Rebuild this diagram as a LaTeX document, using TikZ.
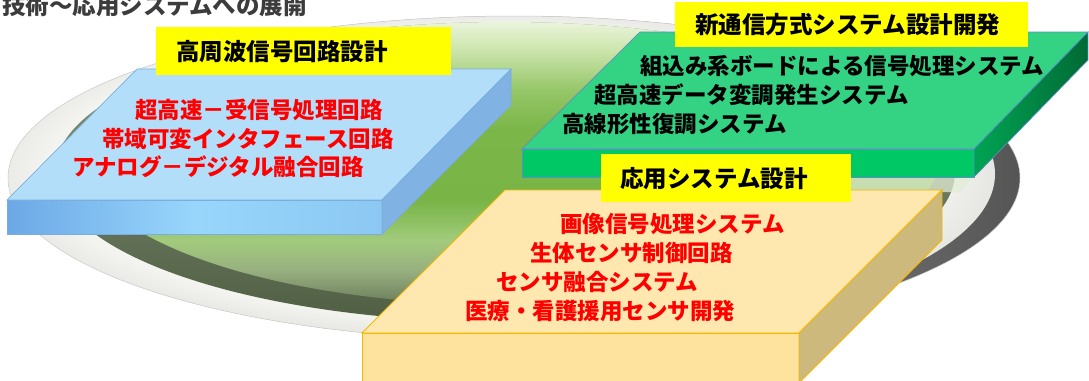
\documentclass[tikz,border=0pt]{standalone}
\usepackage{fontspec}
\setmainfont{Noto Sans CJK JP}
\definecolor{bTop}{HTML}{B2DEFA}
\definecolor{bFL}{HTML}{6CA8E6}
\definecolor{bFM}{HTML}{98D6FC}
\definecolor{bFR}{HTML}{8CC8F2}
\definecolor{bSide}{HTML}{80B2E4}
\definecolor{bEdge}{HTML}{78AEE0}
\definecolor{gTop}{HTML}{33D383}
\definecolor{gFront}{HTML}{00C864}
\definecolor{gSL}{HTML}{00A453}
\definecolor{gSR}{HTML}{006A34}
\definecolor{gEdge}{HTML}{5B8FC9}
\definecolor{oTop}{HTML}{FEE8B0}
\definecolor{oFront}{HTML}{FDE39E}
\definecolor{oSide}{HTML}{CDB97B}
\definecolor{oEdge}{HTML}{F5B700}
\definecolor{lblYellow}{HTML}{FFFF00}
\definecolor{titleGray}{HTML}{3C3C3C}
\definecolor{rimL}{HTML}{E6E6E2}
\definecolor{rimR}{HTML}{555555}
\definecolor{rimW}{HTML}{F3F3EF}
\definecolor{darkT}{HTML}{8C9A7C}
\definecolor{darkB}{HTML}{505E44}
\definecolor{glare}{HTML}{E2EDD6}
\definecolor{d1}{HTML}{EAF4DC}
\definecolor{d2}{HTML}{D2E8B4}
\definecolor{d3}{HTML}{96C668}
\definecolor{d4}{HTML}{7AB648}
\definecolor{d5}{HTML}{78B446}
\definecolor{d6}{HTML}{A2CB7C}
\definecolor{d7}{HTML}{98B080}
\definecolor{d8}{HTML}{6A7C5A}
\pgfdeclareverticalshading{discshade}{100bp}{color(0bp)=(d8); color(25bp)=(d8); color(30.8bp)=(d7); color(35.8bp)=(d6); color(42.5bp)=(d5); color(54.2bp)=(d4); color(60.8bp)=(d3); color(68.3bp)=(d2); color(72.2bp)=(d1); color(75bp)=(d1); color(100bp)=(d1)}
\pgfdeclareverticalshading{darkshade}{100bp}{color(0bp)=(darkB); color(25bp)=(darkB); color(75bp)=(darkT); color(100bp)=(darkT)}
\pgfdeclareradialshading{whiteshade}{\pgfpoint{0bp}{0bp}}{color(0bp)=(rimW); color(22bp)=(rimW); color(25bp)=(rimL); color(50bp)=(rimL)}
\tikzset{
  redtxt/.style={text=red, font={\fontsize{22.5pt}{27pt}\selectfont\bfseries}, anchor=west, inner sep=0pt},
  blktxt/.style={text=black, font={\fontsize{22.5pt}{27pt}\selectfont\bfseries}, anchor=west, inner sep=0pt},
  lbltxt/.style={text=black, font={\fontsize{23.5pt}{28pt}\selectfont\bfseries}, anchor=west, inner sep=0pt},
  titletxt/.style={text=titleGray, font={\fontsize{23.5pt}{28pt}\selectfont\bfseries}, anchor=base west, inner sep=0pt},
  lblbox/.style={fill=lblYellow},
  bluetop/.style={fill=bTop, draw=bEdge, line width=0.7pt},
  bluefront/.style={left color=bFL, right color=bFR, middle color=bFM, draw=bEdge, line width=0.7pt},
  blueside/.style={fill=bSide, draw=bEdge, line width=0.7pt},
  greentop/.style={fill=gTop, draw=gEdge, line width=0.7pt},
  greenfront/.style={fill=gFront, draw=gEdge, line width=0.7pt},
  greenside/.style={left color=gSL, right color=gSR, draw=gEdge, line width=0.7pt},
  orangetop/.style={fill=oTop, draw=oEdge, line width=0.8pt},
  orangefront/.style={fill=oFront, draw=oEdge, line width=0.8pt},
  orangeside/.style={fill=oSide, draw=oEdge, line width=0.8pt},
}
\begin{document}
\begin{tikzpicture}[x=1pt,y=-1pt]
\useasboundingbox (0,0) rectangle (1089,380);
\begin{scope}
\clip (0,0) rectangle (1089,380);
\fill[white] (0,0) rectangle (1089,380);
% ---- background disc ----
\begin{scope}
  \clip (514,178) ellipse [x radius=506pt, y radius=162pt];
  \path[left color=rimL, right color=rimR] (514,178) ellipse [x radius=506pt, y radius=162pt];
  \path[shading=whiteshade] (490,174) ellipse [x radius=505pt, y radius=166pt];
  \path[shading=darkshade] (505,172) ellipse [x radius=450pt, y radius=150pt];
  \begin{scope}
    \clip (505,172) ellipse [x radius=450pt, y radius=150pt];
    \path[shading=discshade] (510,155) ellipse [x radius=430pt, y radius=150pt];
  \end{scope}
  \fill[glare, opacity=0.75] (790,176) -- (974,176) -- (960,192) -- (790,192) -- cycle;
\end{scope}
\draw[gray!40, line width=0.5pt] (514,178) ellipse [x radius=506pt, y radius=162pt];
% ---- blue slab ----
\path[bluetop] (137,69) -- (511,69) -- (382,200) -- (7,200) -- cycle;
\path[bluefront] (7,200) -- (382,200) -- (382,234) -- (7,234) -- cycle;
\path[blueside] (382,200) -- (511,69) -- (511,105) -- (382,234) -- cycle;
\fill[lblbox] (156,27) rectangle (451,75);
\node[lbltxt] (lblA) at (176,52) {高周波信号回路設計};
\node[redtxt] (a1) at (135,110) {超高速－受信号処理回路};
\node[redtxt] (a2) at (102,139) {帯域可変インタフェース回路};
\node[redtxt] (a3) at (72,167) {アナログ－デジタル融合回路};
% ---- green slab ----
\path[greentop] (640,32) -- (1088,32) -- (974,149) -- (522,149) -- cycle;
\path[greenfront] (522,149) -- (974,149) -- (974,177) -- (522,177) -- cycle;
\path[greenside] (974,149) -- (1088,32) -- (1088,60) -- (974,177) -- cycle;
\fill[lblbox] (675,2) rectangle (1028,47);
\node[lbltxt] (lblB) at (695,25) {新通信方式システム設計開発};
\node[blktxt] (b1) at (640,66) {組込み系ボードによる信号処理システム};
\node[blktxt] (b2) at (594,95) {超高速データ変調発生システム};
\node[blktxt] (b3) at (562,124) {高線形性復調システム};
% ---- orange slab ----
\path[orangetop] (505,190) -- (942,190) -- (799,333) -- (362,333) -- cycle;
\path[orangefront] (362,333) -- (799,333) -- (799,392) -- (362,392) -- cycle;
\path[orangeside] (799,333) -- (942,190) -- (942,240) -- (799,383) -- cycle;
\fill[lblbox] (601,154) rectangle (851,202);
\node[lbltxt] (lblC) at (620,179) {応用システム設計};
\node[redtxt] (c1) at (560,224) {画像信号処理システム};
\node[redtxt] (c2) at (530,253) {生体センサ制御回路};
\node[redtxt] (c3) at (496,282) {センサ融合システム};
\node[redtxt] (c4) at (465,311) {医療・看護援用センサ開発};
% ---- title ----
\node[titletxt] (title) at (2,14) {技術～応用システムへの展開};
\end{scope}
\end{tikzpicture}
\end{document}
